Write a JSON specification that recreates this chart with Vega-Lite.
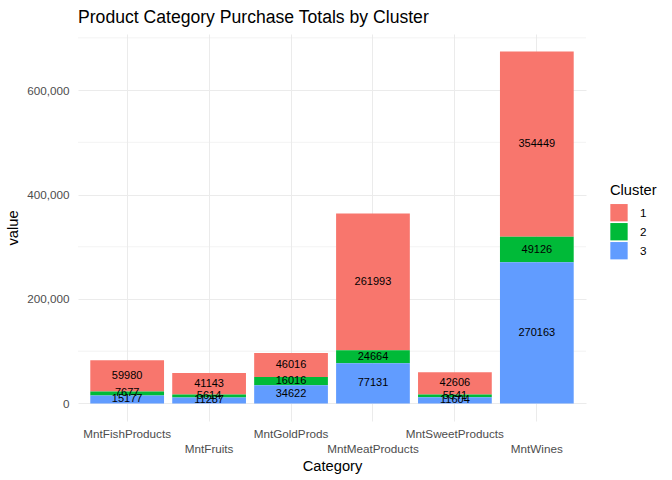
{
  "$schema": "https://vega.github.io/schema/vega-lite/v6.json",
  "autosize": "none",
  "width": 508,
  "height": 387,
  "padding": {"left": 78, "top": 34, "right": 86, "bottom": 59},
  "background": "white",
  "title": {
    "text": "Product Category Purchase Totals by Cluster",
    "anchor": "start",
    "frame": "group",
    "font": "Liberation Sans",
    "fontSize": 17.6,
    "fontWeight": "normal",
    "color": "black",
    "offset": 7
  },
  "config": {
    "view": {"stroke": null},
    "font": "Liberation Sans"
  },
  "data": {
    "values": [
      {"Category": "MntFishProducts", "Cluster": "1", "value": 59980},
      {"Category": "MntFishProducts", "Cluster": "2", "value": 7677},
      {"Category": "MntFishProducts", "Cluster": "3", "value": 15177},
      {"Category": "MntFruits", "Cluster": "1", "value": 41143},
      {"Category": "MntFruits", "Cluster": "2", "value": 5614},
      {"Category": "MntFruits", "Cluster": "3", "value": 11287},
      {"Category": "MntGoldProds", "Cluster": "1", "value": 46016},
      {"Category": "MntGoldProds", "Cluster": "2", "value": 16016},
      {"Category": "MntGoldProds", "Cluster": "3", "value": 34622},
      {"Category": "MntMeatProducts", "Cluster": "1", "value": 261993},
      {"Category": "MntMeatProducts", "Cluster": "2", "value": 24664},
      {"Category": "MntMeatProducts", "Cluster": "3", "value": 77131},
      {"Category": "MntSweetProducts", "Cluster": "1", "value": 42606},
      {"Category": "MntSweetProducts", "Cluster": "2", "value": 5541},
      {"Category": "MntSweetProducts", "Cluster": "3", "value": 11604},
      {"Category": "MntWines", "Cluster": "1", "value": 354449},
      {"Category": "MntWines", "Cluster": "2", "value": 49126},
      {"Category": "MntWines", "Cluster": "3", "value": 270163}
    ]
  },
  "transform": [
    {"stack": "value", "groupby": ["Category"], "sort": [{"field": "Cluster", "order": "descending"}], "as": ["v0", "v1"]},
    {"calculate": "(datum.v0 + datum.v1) / 2", "as": "mid"}
  ],
  "encoding": {
    "x": {
      "field": "Category",
      "type": "nominal",
      "scale": {"paddingInner": 0.1, "paddingOuter": 0.15},
      "axis": {
        "title": "Category",
        "titleFont": "Liberation Sans",
        "titleFontSize": 14.7,
        "titleFontWeight": "normal",
        "titleColor": "black",
        "titlePadding": 4,
        "labelAngle": 0,
        "labelFontSize": 11.7,
        "labelColor": "#4D4D4D",
        "labelPadding": {"expr": "indexof(['MntFruits','MntMeatProducts','MntWines'], datum.value) >= 0 ? 22 : 7"},
        "domain": false,
        "ticks": false,
        "grid": true,
        "gridColor": "#EBEBEB",
        "gridWidth": 1,
        "bandPosition": 0.5
      }
    }
  },
  "layer": [
    {
      "mark": {"type": "rule"},
      "data": {"values": [{"g": 100000}, {"g": 300000}, {"g": 500000}, {"g": 700000}]},
      "transform": [],
      "encoding": {
        "y": {"field": "g", "type": "quantitative"},
        "color": {"value": "#EBEBEB"},
        "strokeWidth": {"value": 0.6},
        "x": null
      }
    },
    {
      "mark": {"type": "bar"},
      "encoding": {
        "y": {
          "field": "v0",
          "type": "quantitative",
          "scale": {"domain": [-33687, 707425], "nice": false, "zero": false},
          "axis": {
            "title": "value",
            "titleFont": "Liberation Sans",
            "titleFontSize": 14.7,
            "titleFontWeight": "normal",
            "titleColor": "black",
            "titlePadding": 6,
            "values": [0, 200000, 400000, 600000],
            "format": ",d",
            "labelFontSize": 11.7,
            "labelColor": "#4D4D4D",
            "labelPadding": 9,
            "domain": false,
            "ticks": false,
            "grid": true,
            "gridColor": "#EBEBEB",
            "gridWidth": 1
          }
        },
        "y2": {"field": "v1"},
        "color": {
          "field": "Cluster",
          "type": "nominal",
          "scale": {"domain": ["1", "2", "3"], "range": ["#F8766D", "#00BA38", "#619CFF"]},
          "legend": {
            "title": "Cluster",
            "orient": "none",
            "legendX": 532,
            "legendY": 149,
            "titleFontSize": 14.7,
            "titleFontWeight": "normal",
            "titleColor": "black",
            "titlePadding": 6,
            "symbolType": "square",
            "symbolSize": 300,
            "symbolStrokeWidth": 0,
            "symbolOpacity": 1,
            "labelFontSize": 11.7,
            "labelColor": "black",
            "labelOffset": 12,
            "rowPadding": 1
          }
        }
      }
    },
    {
      "mark": {"type": "text", "fontSize": 11, "color": "black", "baseline": "middle", "align": "center"},
      "encoding": {
        "y": {"field": "mid", "type": "quantitative"},
        "text": {"field": "value", "type": "quantitative", "format": "d"}
      }
    }
  ]
}
